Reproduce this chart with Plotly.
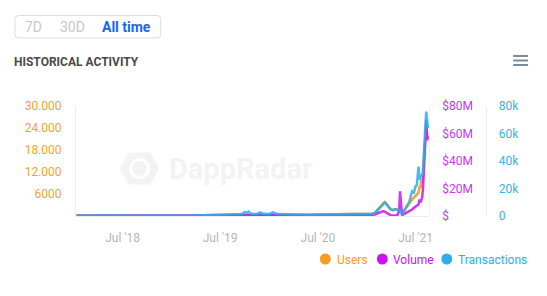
import plotly.graph_objects as go

dates = [
    "2018-01-10", "2018-02-01", "2018-03-01", "2018-04-01", "2018-05-01", "2018-06-01",
    "2018-07-01", "2018-08-01", "2018-09-01", "2018-10-01", "2018-11-01", "2018-12-01",
    "2019-01-01", "2019-02-01", "2019-03-01", "2019-04-01", "2019-05-01", "2019-06-01",
    "2019-07-01", "2019-08-01", "2019-09-01", "2019-09-20", "2019-10-01", "2019-10-08",
    "2019-10-15", "2019-10-22", "2019-11-01", "2019-11-15",
    "2019-11-27", "2019-12-10", "2020-01-01", "2020-01-15", "2020-02-01", "2020-03-01",
    "2020-04-01", "2020-05-01", "2020-06-01", "2020-07-01", "2020-08-01", "2020-09-01",
    "2020-10-01", "2020-11-01",
    "2020-11-20", "2020-12-10", "2021-01-01", "2021-01-20", "2021-01-30", "2021-02-10",
    "2021-02-20", "2021-03-01", "2021-03-08", "2021-03-14", "2021-03-22", "2021-03-30",
    "2021-04-08", "2021-04-16",
    "2021-04-24", "2021-05-01", "2021-05-04", "2021-05-08", "2021-05-12", "2021-05-20",
    "2021-05-31", "2021-06-08", "2021-06-18", "2021-06-25", "2021-07-01", "2021-07-06",
    "2021-07-12", "2021-07-16", "2021-07-19", "2021-07-22", "2021-07-26", "2021-07-29",
    "2021-08-01", "2021-08-03", "2021-08-06", "2021-08-08", "2021-08-10", "2021-08-12",
    "2021-08-14", "2021-08-16",
]

users = [
    120, 150, 130, 110, 100, 120, 110, 100, 90, 100, 110, 100,
    120, 130, 140, 150, 200, 250, 300, 320, 350, 400, 450, 420, 400, 380, 360, 350,
    380, 340, 320, 330, 300, 280, 300, 320, 350, 380, 420, 480, 450, 520,
    600, 650, 550, 600, 800, 1800, 2700, 3400, 3800, 3300, 2600, 1800, 1600, 1900,
    1700, 1800, 1500, 800, 400, 1500, 2700, 3500, 4500, 5000, 5400, 5800,
    6500, 8100, 7500, 10000, 9000, 12000, 16000, 18000, 21000, 22500, 24100, 23000,
    21500, 22000,
]

transactions = [
    300, 400, 350, 300, 300, 350, 300, 250, 250, 300, 300, 300,
    350, 400, 400, 450, 600, 700, 900, 1000, 1200, 1500, 3000, 2200, 3200, 1900, 1500, 1400,
    2600, 1600, 1500, 2600, 1400, 1200, 1100, 1000, 1000, 1100, 1200, 1300, 1300, 1500,
    1700, 1800, 1500, 1600, 2200, 4600, 7000, 9000, 9800, 8600, 6600, 4800, 4200, 5000,
    4500, 4800, 4000, 2000, 1000, 4000, 8400, 10500, 18000, 17000, 21700, 22500,
    36000, 26500, 28000, 30000, 29000, 33000, 45000, 55000, 63000, 70000, 76000, 72000,
    66000, 64000,
]

volume = [
    100000, 120000, 100000, 90000, 80000, 90000, 80000, 80000, 70000, 80000, 90000, 80000,
    90000, 100000, 110000, 120000, 150000, 180000, 200000, 220000, 250000, 300000, 320000,
    300000, 310000, 290000, 280000, 260000,
    250000, 240000, 230000, 220000, 210000, 200000, 230000, 250000, 280000, 300000, 350000,
    400000, 500000, 700000,
    1000000, 1200000, 1000000, 900000, 1100000, 2000000, 3000000, 3500000, 3200000, 2500000,
    1500000, 500000, 300000, 400000,
    500000, 4000000, 18000000, 8000000, 600000, 1500000, 2500000, 3500000, 4700000, 6000000,
    7000000, 7500000,
    8400000, 12000000, 10000000, 11000000, 14000000, 20000000, 35000000, 48000000, 60000000,
    66000000, 70000000, 62000000, 55000000, 58000000,
]

x_tick_vals = ["2018-07-01", "2019-07-01", "2020-07-01", "2021-07-01"]
x_tick_text = ["Jul '18", "Jul '19", "Jul '20", "Jul '21"]
users_tick_vals = [6000, 12000, 18000, 24000, 30000]
users_tick_text = ["6000", "12.000", "18.000", "24.000", "30.000"]
volume_tick_vals = [0, 20e6, 40e6, 60e6, 80e6]
volume_tick_text = ["$", "$20M", "$40M", "$60M", "$80M"]
tx_tick_vals = [0, 20000, 40000, 60000, 80000]
tx_tick_text = ["0", "20k", "40k", "60k", "80k"]

series_names = ["Users", "Volume", "Transactions"]

ORANGE = "#fb9a1b"
PURPLE = "#cc11f5"
BLUE = "#2aafe8"
FONT = "Roboto"

W, H = 547, 296
ML, MR, MT, MB = 76, 10, 106, 80
PW, PH = W - ML - MR, H - MT - MB


def px(x):
    return (x - ML) / PW


def py(y):
    return (H - MB - y) / PH


fig = go.Figure()
fig.add_trace(go.Scatter(x=dates, y=transactions, yaxis="y3", mode="lines",
                         line=dict(color=BLUE, width=2.5), opacity=0.85, name=series_names[2]))
fig.add_trace(go.Scatter(x=dates, y=volume, yaxis="y2", mode="lines",
                         line=dict(color=PURPLE, width=2.5), opacity=0.85, name=series_names[1]))
fig.add_trace(go.Scatter(x=dates, y=users, yaxis="y", mode="lines",
                         line=dict(color=ORANGE, width=2.5), opacity=0.92, name=series_names[0]))

x_end = px(432)
shapes = []
annotations = []

# period selector box
shapes.append(dict(type="path", xref="paper", yref="paper", line=dict(color="#dddddd", width=1),
                   fillcolor="white",
                   path="M {a},{t} L {b},{t} Q {br},{t} {br},{t2} L {br},{b2} Q {br},{bb} {b},{bb} "
                        "L {a},{bb} Q {al},{bb} {al},{b2} L {al},{t2} Q {al},{t} {a},{t} Z".format(
                       a=px(18), b=px(158), al=px(14.5), br=px(161.5),
                       t=py(15.5), t2=py(19.5), b2=py(34), bb=py(38))))
for txt, cx, col, bold in [("7D", 33, "#c8c8c8", False), ("30D", 72, "#c8c8c8", False),
                           ("All time", 127, "#1466fa", True)]:
    annotations.append(dict(xref="paper", yref="paper", x=px(cx), y=py(27), text=txt,
                            showarrow=False, xanchor="center", yanchor="middle",
                            font=dict(family=FONT, size=14, color=col,
                                      weight="bold" if bold else "normal")))

annotations.append(dict(xref="paper", yref="paper", x=px(11.5), y=py(61.5),
                        text="HISTORICAL ACTIVITY", showarrow=False, xanchor="left",
                        yanchor="middle",
                        font=dict(family=FONT, size=12, color="#4a4a4a", weight="bold")))

# hamburger menu
for yy in (56, 60.5, 65):
    shapes.append(dict(type="line", xref="paper", yref="paper", x0=px(517), x1=px(532),
                       y0=py(yy), y1=py(yy), line=dict(color="#7c8b99", width=2)))

# watermark
hexpts = [(120, 168.5), (129, 152.5), (151, 152.5), (160, 168.5), (151, 184.5), (129, 184.5)]
shapes.append(dict(type="path", xref="paper", yref="paper", layer="below",
                   fillcolor="#f3f3f3", line=dict(width=0),
                   path="M " + " L ".join(f"{px(a)},{py(b)}" for a, b in hexpts) + " Z"))
shapes.append(dict(type="circle", xref="paper", yref="paper", layer="below",
                   x0=px(131), x1=px(149), y0=py(159.5), y1=py(177.5),
                   line=dict(color="white", width=3)))
annotations.append(dict(xref="paper", yref="paper", x=px(168), y=py(169), text="DappRadar",
                        showarrow=False, xanchor="left", yanchor="middle",
                        font=dict(family=FONT, size=29, color="#f3f3f3", weight="bold")))

# legend
for name, col, cx, tx in [(series_names[0], ORANGE, 327.5, 337),
                          (series_names[1], PURPLE, 385, 394),
                          (series_names[2], BLUE, 450, 459)]:
    shapes.append(dict(type="circle", xref="paper", yref="paper",
                       x0=px(cx - 5.5), x1=px(cx + 5.5), y0=py(259 - 5.5), y1=py(259 + 5.5),
                       fillcolor=col, line=dict(width=0)))
    annotations.append(dict(xref="paper", yref="paper", x=px(tx), y=py(260), text=name,
                            showarrow=False, xanchor="left", yanchor="middle",
                            font=dict(family=FONT, size=12, color=col)))

fig.update_layout(
    width=W, height=H,
    margin=dict(l=ML, r=MR, t=MT, b=MB, pad=0),
    paper_bgcolor="white", plot_bgcolor="white",
    showlegend=False,
    hovermode=False,
    font=dict(family=FONT, size=12),
    xaxis=dict(domain=[0, x_end], type="date", range=["2018-01-08", "2021-08-20"],
               tickvals=x_tick_vals, ticktext=x_tick_text, showgrid=False, zeroline=False,
               showline=True, linecolor="#eeeeee", ticks="", ticklabelstandoff=11,
               tickfont=dict(color="#b5b5b5", size=12, family=FONT)),
    yaxis=dict(range=[0, 30000], tickvals=users_tick_vals, ticktext=users_tick_text,
               showgrid=False, zeroline=False, showline=True, linecolor="#eeeeee",
               ticks="", ticklabelstandoff=11,
               tickfont=dict(color="#fca321", size=12, family=FONT)),
    yaxis2=dict(range=[0, 80e6], overlaying="y", anchor="free", position=x_end, side="right",
                tickvals=volume_tick_vals, ticktext=volume_tick_text, showgrid=False,
                zeroline=False, showline=True, linecolor="#f2f2f2", ticks="",
                ticklabelstandoff=10, tickfont=dict(color="#cc33f5", size=12, family=FONT)),
    yaxis3=dict(range=[0, 80000], overlaying="y", anchor="free", position=px(490), side="right",
                tickvals=tx_tick_vals, ticktext=tx_tick_text, showgrid=False,
                zeroline=False, showline=True, linecolor="#eeeeee", ticks="",
                ticklabelstandoff=9, tickfont=dict(color="#3ab2ea", size=12, family=FONT)),
    shapes=shapes,
    annotations=annotations,
)

fig.write_html("out.html", config={"displayModeBar": False})
